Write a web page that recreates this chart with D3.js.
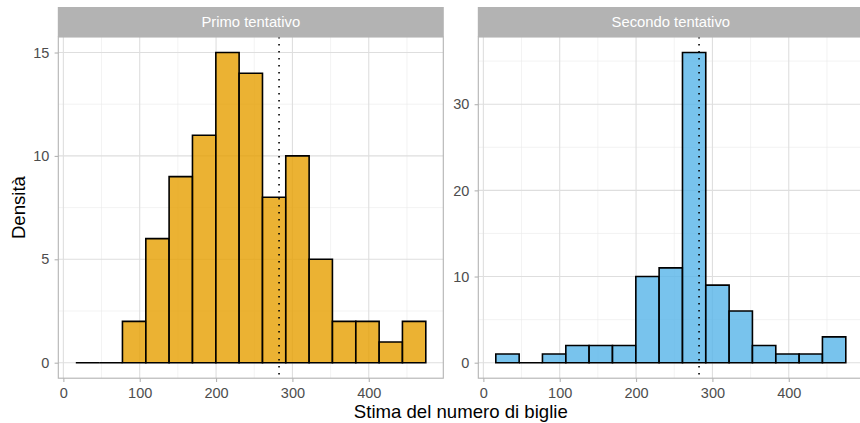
<!DOCTYPE html>
<html>
<head>
<meta charset="utf-8">
<script src="https://cdn.jsdelivr.net/npm/d3@7"></script>
<style>
  body { margin: 0; background: #fff; }
  svg { display: block; font-family: "Liberation Sans", Arial, Helvetica, sans-serif; }
</style>
</head>
<body>
<svg id="chart" width="860" height="423"></svg>
<script>
// bin edges shared by both facets (ggplot bins = 15)
var binEdges = [16.3, 46.9, 77.4, 108.0, 138.5, 169.1, 199.7, 230.2, 260.8, 291.3, 321.9, 352.4, 383.0, 413.6, 444.1, 474.7];

var primoCounts   = [0, 0, 2, 6, 9, 11, 15, 14, 8, 10, 5, 2, 2, 1, 2];
var secondoCounts = [1, 0, 1, 2, 2, 2, 10, 11, 36, 9, 6, 2, 1, 1, 3];

var facetLabels = ["Primo tentativo", "Secondo tentativo"];
var xTicks = [0, 100, 200, 300, 400];
var xMinor = [50, 150, 250, 350, 450];
var yTicksPrimo = [0, 5, 10, 15];
var yMinorPrimo = [2.5, 7.5, 12.5];
var yTicksSecondo = [0, 10, 20, 30];
var yMinorSecondo = [5, 15, 25, 35];
var trueValue = 282.5;   // linea tratteggiata

var svg = d3.select("#chart");

var panelTop = 37, panelBottom = 378.2, stripTop = 7;

var panels = [
  { label: facetLabels[0], counts: primoCounts, left: 58.3, right: 443.3,
    fill: "#E69F00", yTicks: yTicksPrimo, yMinor: yMinorPrimo, yMax: 15 },
  { label: facetLabels[1], counts: secondoCounts, left: 478.3, right: 863.3,
    fill: "#56B4E9", yTicks: yTicksSecondo, yMinor: yMinorSecondo, yMax: 36 }
];

panels.forEach(function(p) {
  var span = binEdges[15] - binEdges[0];
  var x = d3.scaleLinear()
      .domain([binEdges[0] - 0.05 * span, binEdges[15] + 0.05 * span])
      .range([p.left, p.right]);
  var pad = 0.05 * p.yMax;
  var y = d3.scaleLinear()
      .domain([-pad, p.yMax + pad])
      .range([panelBottom, panelTop]);

  var g = svg.append("g");

  // grid
  g.selectAll(".xminor").data(xMinor).enter().append("line")
      .attr("x1", function(d) { return x(d); }).attr("x2", function(d) { return x(d); })
      .attr("y1", panelTop).attr("y2", panelBottom)
      .attr("stroke", "#EBEBEB").attr("stroke-width", 0.6);
  g.selectAll(".yminor").data(p.yMinor).enter().append("line")
      .attr("x1", p.left).attr("x2", p.right)
      .attr("y1", function(d) { return y(d); }).attr("y2", function(d) { return y(d); })
      .attr("stroke", "#EBEBEB").attr("stroke-width", 0.6);
  g.selectAll(".xmajor").data(xTicks).enter().append("line")
      .attr("x1", function(d) { return x(d); }).attr("x2", function(d) { return x(d); })
      .attr("y1", panelTop).attr("y2", panelBottom)
      .attr("stroke", "#DEDEDE").attr("stroke-width", 1.1);
  g.selectAll(".ymajor").data(p.yTicks).enter().append("line")
      .attr("x1", p.left).attr("x2", p.right)
      .attr("y1", function(d) { return y(d); }).attr("y2", function(d) { return y(d); })
      .attr("stroke", "#DEDEDE").attr("stroke-width", 1.1);

  // bars (paths so zero-count bins still draw a line)
  var bars = p.counts.map(function(c, i) { return { x0: binEdges[i], x1: binEdges[i + 1], n: c }; });
  g.selectAll(".bar").data(bars).enter().append("path")
      .attr("d", function(d) {
        return "M" + x(d.x0) + "," + y(0) + "V" + y(d.n) + "H" + x(d.x1) + "V" + y(0) + "Z";
      })
      .attr("fill", p.fill).attr("fill-opacity", 0.8)
      .attr("stroke", "black").attr("stroke-width", 1.6)
      .attr("stroke-linejoin", "miter");

  // dotted reference line
  g.append("line")
      .attr("x1", x(trueValue)).attr("x2", x(trueValue))
      .attr("y1", panelTop).attr("y2", panelBottom)
      .attr("stroke", "black").attr("stroke-width", 1.6)
      .attr("stroke-dasharray", "1.6,5.4");

  // panel border
  g.append("rect")
      .attr("x", p.left).attr("y", panelTop)
      .attr("width", p.right - p.left).attr("height", panelBottom - panelTop)
      .attr("fill", "none").attr("stroke", "#B3B3B3").attr("stroke-width", 1.1);

  // strip
  g.append("rect")
      .attr("x", p.left - 0.5).attr("y", stripTop)
      .attr("width", p.right - p.left + 1).attr("height", panelTop - stripTop)
      .attr("fill", "#B3B3B3");
  g.append("text")
      .attr("x", (p.left + p.right) / 2).attr("y", 27.2)
      .attr("text-anchor", "middle").attr("fill", "white")
      .attr("font-size", 14.8).text(p.label);

  // axes
  var xAxis = d3.axisBottom(x).tickValues(xTicks).tickSize(3.7).tickPadding(5.5);
  var yAxis = d3.axisLeft(y).tickValues(p.yTicks).tickSize(3.7).tickPadding(5.3);

  var xa = g.append("g").attr("transform", "translate(0," + panelBottom + ")").call(xAxis);
  var ya = g.append("g").attr("transform", "translate(" + p.left + ",0)").call(yAxis);
  [xa, ya].forEach(function(a) {
    a.select(".domain").remove();
    a.selectAll(".tick line").attr("stroke", "#B3B3B3").attr("stroke-width", 1.1);
    a.selectAll(".tick text").attr("fill", "#4D4D4D").attr("font-size", 14.5)
        .attr("font-family", "Liberation Sans, Arial, sans-serif");
  });
});

// axis titles
svg.append("text")
    .attr("x", (58.3 + 863.3) / 2).attr("y", 417.7)
    .attr("text-anchor", "middle").attr("font-size", 18.6).attr("fill", "black")
    .text("Stima del numero di biglie");
svg.append("text")
    .attr("transform", "translate(24.5," + (panelTop + panelBottom) / 2 + ") rotate(-90)")
    .attr("text-anchor", "middle").attr("font-size", 18.6).attr("fill", "black")
    .text("Densità");
</script>
</body>
</html>
